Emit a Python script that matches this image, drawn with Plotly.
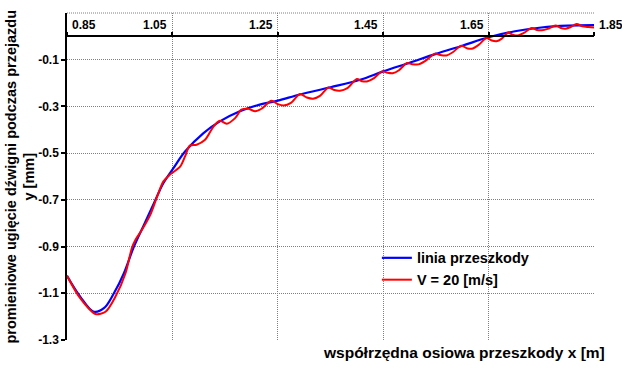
import plotly.graph_objects as go

# ---- data ----
x_blue = [0.85, 0.875, 0.901, 0.920, 0.939, 0.958, 0.977, 0.996, 1.015, 1.033, 1.052,
          1.074, 1.109, 1.140, 1.178, 1.210, 1.250, 1.292, 1.350, 1.406, 1.450, 1.500,
          1.550, 1.600, 1.650, 1.700, 1.750, 1.800, 1.850]
y_blue = [-1.025, -1.114, -1.179, -1.164, -1.100, -1.014, -0.900, -0.807, -0.714, -0.628, -0.564,
          -0.493, -0.414, -0.364, -0.321, -0.296, -0.275, -0.249, -0.218, -0.186, -0.150, -0.113,
          -0.075, -0.040, -0.004, 0.022, 0.038, 0.046, 0.048]

x_red = [0.85, 0.875, 0.904, 0.923, 0.942, 0.961, 0.973, 0.980, 0.992, 1.008, 1.021, 1.033,
         1.045, 1.065, 1.074, 1.083, 1.096, 1.112, 1.128, 1.140, 1.153, 1.169, 1.181, 1.194,
         1.207, 1.219, 1.238, 1.250, 1.261, 1.275, 1.292, 1.305, 1.317, 1.330, 1.346, 1.357,
         1.368, 1.382, 1.400, 1.410, 1.419, 1.432, 1.448, 1.458, 1.468, 1.480, 1.495, 1.505,
         1.517, 1.530, 1.548, 1.558, 1.570, 1.582, 1.598, 1.610, 1.620, 1.632, 1.646, 1.656,
         1.665, 1.675, 1.687, 1.697, 1.706, 1.717, 1.732, 1.742, 1.751, 1.762, 1.777, 1.787,
         1.796, 1.806, 1.817, 1.828, 1.840, 1.850]
y_red = [-1.025, -1.121, -1.189, -1.179, -1.114, -1.014, -0.907, -0.871, -0.829, -0.764, -0.686, -0.621,
         -0.593, -0.557, -0.514, -0.468, -0.464, -0.443, -0.386, -0.361, -0.374, -0.350, -0.314, -0.310,
         -0.321, -0.310, -0.276, -0.290, -0.296, -0.285, -0.247, -0.262, -0.267, -0.255, -0.219, -0.230,
         -0.233, -0.222, -0.183, -0.192, -0.193, -0.180, -0.150, -0.156, -0.158, -0.145, -0.114, -0.119,
         -0.120, -0.105, -0.074, -0.080, -0.082, -0.068, -0.040, -0.052, -0.052, -0.035, -0.007, -0.018,
         -0.021, -0.010, 0.015, 0.006, 0.004, 0.015, 0.036, 0.027, 0.026, 0.032, 0.046, 0.036,
         0.033, 0.040, 0.053, 0.043, 0.040, 0.038]

x_ticks = [0.85, 1.05, 1.25, 1.45, 1.65, 1.85]
x_tick_labels = ["0.85", "1.05", "1.25", "1.45", "1.65", "1.85"]
y_ticks = [-1.3, -1.1, -0.9, -0.7, -0.5, -0.3, -0.1]
y_tick_labels = ["-1.3", "-1.1", "-0.9", "-0.7", "-0.5", "-0.3", "-0.1"]

name_blue = "linia przeszkody"
name_red = "V = 20 [m/s]"
y_title = "promieniowe ugięcie dźwigni podczas przejazdu<br>y [mm]"
x_title = "współrzędna osiowa przeszkody x [m]"

FONT = "Arial, Liberation Sans, sans-serif"

fig = go.Figure()
fig.add_trace(go.Scatter(x=x_blue, y=y_blue, mode="lines", name=name_blue,
                         line=dict(color="#0000FF", width=2.2, shape="spline", smoothing=1.0)))
fig.add_trace(go.Scatter(x=x_red, y=y_red, mode="lines", name=name_red,
                         line=dict(color="#FF0000", width=2, shape="spline", smoothing=0.8)))

grid = dict(showgrid=True, gridcolor="#7f7f7f", gridwidth=1, griddash="1px,1px")

fig.update_layout(
    width=622, height=378,
    margin=dict(l=67, r=28, t=13, b=38),
    paper_bgcolor="white", plot_bgcolor="white",
    font=dict(family=FONT, size=12, color="black", weight="bold"),
    xaxis=dict(range=[0.85, 1.85], tickvals=x_ticks, showticklabels=False,
               anchor="free", position=1.3 / 1.4, side="top",
               showline=True, linecolor="black", linewidth=1.5,
               ticks="outside", ticklen=4, tickwidth=1.5, tickcolor="black",
               zeroline=False, **grid),
    yaxis=dict(range=[-1.3, 0.1], tickvals=y_ticks, ticktext=y_tick_labels,
               showline=True, linecolor="black", linewidth=1.5,
               ticks="outside", ticklen=4, tickwidth=1.5, tickcolor="black",
               tickfont=dict(family=FONT, size=12, color="black", weight="bold"),
               zeroline=False, **grid),
    showlegend=True,
    legend=dict(x=0.588, y=0.30, xanchor="left", yanchor="top",
                bgcolor="rgba(0,0,0,0)",
                font=dict(family=FONT, size=14.5, color="black", weight="bold")),
)

# top border gridline (at y = 0.1)
fig.add_shape(type="line", xref="paper", yref="paper", x0=0, x1=1, y0=1, y1=1,
              line=dict(color="#7f7f7f", width=1, dash="1px,1px"))

# x tick labels placed above the axis line
n = len(x_ticks)
for i, (tv, tl) in enumerate(zip(x_ticks, x_tick_labels)):
    if i == 0 or i == n - 1:
        xa, xs = "left", 3
    else:
        xa, xs = "right", -3
    fig.add_annotation(x=tv, y=0, xref="x", yref="y", text=tl, showarrow=False,
                       xanchor=xa, yanchor="bottom", xshift=xs, yshift=2,
                       font=dict(family=FONT, size=12, color="black", weight="bold"))

# axis titles
fig.add_annotation(x=0, y=0.5, xref="paper", yref="paper", text=y_title, showarrow=False,
                   textangle=-90, xanchor="center", yanchor="middle", xshift=-47,
                   font=dict(family=FONT, size=14.5, color="black", weight="bold"))
fig.add_annotation(x=1, y=0, xref="paper", yref="paper", text=x_title, showarrow=False,
                   xanchor="right", yanchor="middle", xshift=13, yshift=-12,
                   font=dict(family=FONT, size=15.5, color="black", weight="bold"))

fig.write_html("out.html", config={"displayModeBar": False},
               post_script="document.body.style.margin='0';document.body.style.padding='0';")
